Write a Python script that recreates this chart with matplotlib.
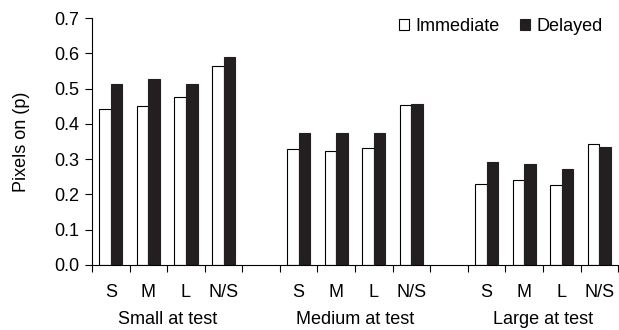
import matplotlib
matplotlib.use("Agg")
import matplotlib.pyplot as plt
import numpy as np

plt.rcParams['font.family'] = ['Liberation Sans', 'DejaVu Sans']

# data
groups = ["Small at test", "Medium at test", "Large at test"]
conds = ["S", "M", "L", "N/S"]
immediate = [0.441, 0.450, 0.476, 0.564,
             0.328, 0.322, 0.331, 0.454,
             0.231, 0.240, 0.228, 0.344]
delayed = [0.514, 0.527, 0.514, 0.589,
           0.375, 0.375, 0.375, 0.457,
           0.291, 0.285, 0.272, 0.335]

# slot layout: 4 bars, one empty slot, 4 bars, one empty slot, 4 bars
slots = np.array([g * 5 + i for g in range(3) for i in range(4)]) + 0.5
w = 0.31
fs = 13

fig = plt.figure(figsize=(6.19, 3.30), dpi=100)
ax = fig.add_axes([0.1486, 0.197, 0.85, 0.748])

ax.bar(slots - w / 2, immediate, w, color="white", edgecolor="black",
       linewidth=0.8, label="Immediate")
ax.bar(slots + w / 2, delayed, w, color="#231f20", edgecolor="#231f20",
       linewidth=0.8, label="Delayed")

ax.set_xlim(0, 14)
ax.set_ylim(0, 0.7)
ax.set_yticks(np.arange(0, 0.71, 0.1))
ax.set_yticklabels([f"{v:.1f}" for v in np.arange(0, 0.71, 0.1)], fontsize=fs)
ax.set_ylabel("Pixels on (p)", fontsize=fs)
ax.yaxis.set_label_coords(-0.118, 0.5)

ax.set_xticks(np.arange(0, 15), minor=True)
ax.set_xticks(slots)
ax.set_xticklabels(conds * 3, fontsize=fs)
ax.tick_params(axis="x", which="major", length=0, pad=14)
ax.tick_params(axis="x", which="minor", length=5, width=0.8, direction="out")
ax.tick_params(axis="y", length=5, width=0.8, direction="out", pad=4)

for sp in ["top", "right"]:
    ax.spines[sp].set_visible(False)
for sp in ["left", "bottom"]:
    ax.spines[sp].set_linewidth(0.8)

for g, name in enumerate(groups):
    ax.text(g * 5 + 2, -0.166, name, ha="center", va="baseline", fontsize=fs,
            transform=ax.transData, clip_on=False)

ax.legend(loc="upper right", ncol=2, frameon=False, fontsize=fs,
          handlelength=0.55, handleheight=0.55, handletextpad=0.35,
          columnspacing=1.1, borderaxespad=0.0, borderpad=0.0,
          bbox_to_anchor=(0.97, 1.0))

fig.savefig("out.png", dpi=100)
